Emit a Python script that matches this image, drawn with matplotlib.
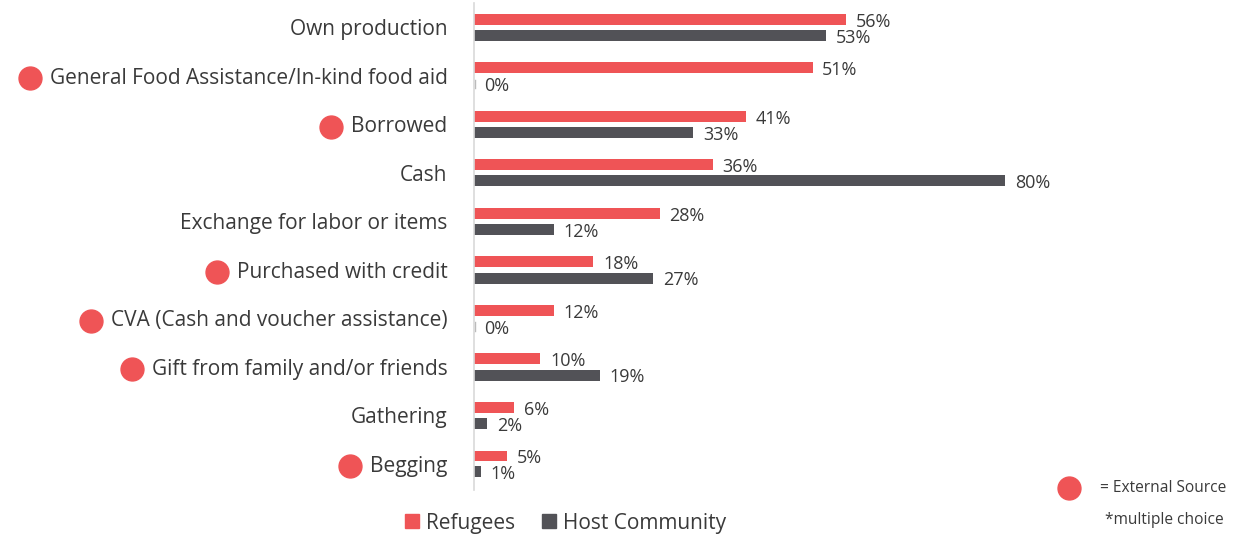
import matplotlib
matplotlib.use("Agg")
import matplotlib.pyplot as plt
from matplotlib.lines import Line2D

plt.rcParams['font.family'] = ['Open Sans', 'DejaVu Sans']

categories = [
    "Own production",
    "General Food Assistance/In-kind food aid",
    "Borrowed",
    "Cash",
    "Exchange for labor or items",
    "Purchased with credit",
    "CVA (Cash and voucher assistance)",
    "Gift from family and/or friends",
    "Gathering",
    "Begging",
]
refugees = [56, 51, 41, 36, 28, 18, 12, 10, 6, 5]
host_community = [53, 0, 33, 80, 12, 27, 0, 19, 2, 1]
external_source = [False, True, True, False, False, True, True, True, False, True]

RED = "#ef5456"
GREY = "#525257"
TEXT = "#3a3a3a"

W, H = 1237, 535
fig = plt.figure(figsize=(W / 100, H / 100), dpi=100)

# axes placed in pixel terms
ax_left, ax_right, ax_top, ax_bottom = 474, 1237, 3, 490
ax = fig.add_axes([ax_left / W, 1 - ax_bottom / H,
                   (ax_right - ax_left) / W, (ax_bottom - ax_top) / H])

px_per_cat = (464 - 27.5) / 9
n = len(categories)
ys = list(range(n))
off = 8 / px_per_cat
bh = 11 / px_per_cat

ax.barh([y - off for y in ys], refugees, height=bh, color=RED)
ax.barh([y + off for y in ys], host_community, height=bh, color=GREY)

px_per_pct = (1005 - 474) / 80
ax.set_xlim(0, (ax_right - ax_left) / px_per_pct)
ax.set_ylim(9 + (ax_bottom - 464) / px_per_cat, -(27.5 - ax_top) / px_per_cat)

for y, r, h in zip(ys, refugees, host_community):
    ax.annotate(f"{r}%", (r, y - off), xytext=(7, -1.5), textcoords="offset points",
                va="center", ha="left", fontsize=13, color=TEXT)
    ax.annotate(f"{h}%", (h, y + off), xytext=(7, -1.5), textcoords="offset points",
                va="center", ha="left", fontsize=13, color=TEXT)
    if h == 0:
        ax.plot([0.15, 0.15], [y + off - bh * 0.4, y + off + bh * 0.4],
                color="#bbbbbb", lw=1)

ax.set_yticks(ys)
ax.set_yticklabels(categories, fontsize=15, color=TEXT)
ax.tick_params(axis="y", length=0, pad=19)
ax.set_xticks([])
for s in ["top", "right", "bottom"]:
    ax.spines[s].set_visible(False)
ax.spines["left"].set_color("#d9d9d9")
ax.spines["left"].set_linewidth(1.2)

# red markers before categories from external sources
fig.canvas.draw()
renderer = fig.canvas.get_renderer()
for lbl, ext in zip(ax.get_yticklabels(), external_source):
    if not ext:
        continue
    bb = lbl.get_window_extent(renderer)
    cx = bb.x0 - 20
    cy = (bb.y0 + bb.y1) / 2
    fig.add_artist(Line2D([cx / W], [cy / H], marker="o", markersize=16.5,
                          color=RED, transform=fig.transFigure))

# legend
handles = [Line2D([], [], marker="s", linestyle="none", markersize=9.5, color=RED),
           Line2D([], [], marker="s", linestyle="none", markersize=9.5, color=GREY)]
fig.legend(handles, ["Refugees", "Host Community"], loc="center",
           bbox_to_anchor=(565 / W, 1 - 523 / H), ncol=2, frameon=False,
           fontsize=15, handlelength=0.8, handletextpad=0.3, columnspacing=1.2,
           labelcolor=TEXT)

# notes
fig.add_artist(Line2D([1069 / W], [1 - 488 / H], marker="o", markersize=16.5,
                      color=RED, transform=fig.transFigure))
fig.text(1100 / W, 1 - 488 / H, "= External Source", fontsize=11.2,
         color=TEXT, va="center", ha="left")
fig.text(1105 / W, 1 - 520 / H, "*multiple choice", fontsize=11.2,
         color=TEXT, va="center", ha="left")

fig.savefig("out.png", dpi=100, facecolor="white")
